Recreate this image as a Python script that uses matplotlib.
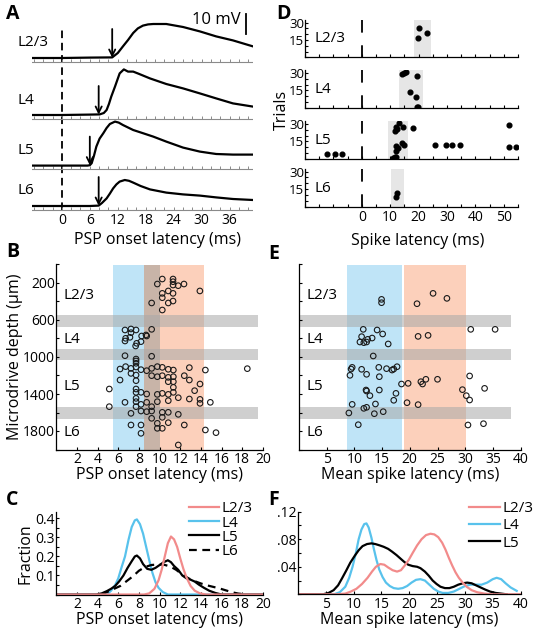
"""Multi-panel PSP / spike latency figure (panels A-F)."""

import matplotlib

matplotlib.use("Agg")
import matplotlib.pyplot as plt
import numpy as np
from matplotlib.ticker import MultipleLocator, FixedLocator, FuncFormatter

plt.rcParams["font.family"] = ["Open Sans", "DejaVu Sans"]
plt.rcParams["font.size"] = 10
plt.rcParams["axes.linewidth"] = 0.9

FIG_W_PX, FIG_H_PX = 534, 641
LABEL_SIZE = 11.5
TICK_SIZE = 10
LAYER_SIZE = 11

LAYERS = ["L2/3", "L4", "L5", "L6"]

# --- A: example PSP traces (ms, mV above baseline) ---
psp_onset_ms = [10.8, 7.9, 6.0, 7.9]
trace_l23_ms = [-6.4, 0, 6, 10.8, 12, 13.1, 14.2, 15.3, 16.3, 17.4, 18.5, 19.6, 22.4, 26, 29.6, 33.1, 36.7, 41]
trace_l23_mv = [0, 0, 0.2, 0.3, 2.5, 5.8, 9, 12.5, 14.8, 16.2, 16.8, 17, 17, 15.5, 13.3, 10.8, 8.8, 5.8]
trace_l4_ms = [-6.4, 0, 6, 8.1, 9.0, 9.6, 10.1, 10.6, 11.4, 12.4, 13.3, 14.2, 15.3, 16.5, 18.9, 22.4, 26, 29.6, 33.1, 36.7, 41]
trace_l4_mv = [0, 0, 0.2, 0.3, 1.0, 2.5, 5.5, 9.2, 14.2, 20.8, 22.8, 21.7, 21.7, 20.6, 18.3, 15.5, 13.3, 10.8, 8.3, 5.8, 4.2]
trace_l5_ms = [-6.4, 0, 5.5, 6.0, 6.4, 6.9, 7.4, 8.1, 8.9, 9.6, 10.3, 11.4, 12.2, 13.1, 15.3, 17.4, 19.6, 22.4, 26, 29.6, 33.1, 36.7, 41]
trace_l5_mv = [0, 0, 0, 0.2, 1.2, 5, 9.5, 13.5, 16.2, 18.8, 20.8, 22, 21.5, 20.3, 17.8, 16.2, 14.5, 12, 9, 7, 5.8, 5.5, 5.5]
trace_l6_ms = [-6.4, 0, 6, 7.9, 8.6, 9.6, 10.3, 11, 11.7, 12.4, 13.5, 14.4, 15.3, 16.9, 18.9, 22.4, 26, 29.6, 33.1, 36.7, 41]
trace_l6_mv = [0, 0, 0, 0.2, 1.5, 3.8, 6.2, 8.8, 10.8, 12.2, 13, 12.6, 11.7, 10, 8.3, 6.7, 5.8, 5.2, 4.3, 3.5, 3]

# --- D: spike rasters (ms, trial) ---
raster_band_ms = [(18.3, 24.3), (13.0, 21.5), (9.2, 16.2), (10.2, 14.8)]
spikes_l23_ms = [20.2, 19.8, 23.0]
spikes_l23_trial = [25.2, 17.0, 20.9]
spikes_l4_ms = [14.8, 15.7, 14.0, 19.3, 17.1, 19.0, 19.3, 19.8]
spikes_l4_trial = [29.8, 30.4, 29.0, 27.0, 13.6, 9.2, 1.4, 1.0]
spikes_l5_ms = [13.0, 12.2, 11.6, 12.4, 14.5, 18.1, 14.0, 14.8, 12.2, 12.8, 12.0, 11.6, 12.2, 11.0,
                -12.2, -9.5, -6.8, 25.8, 29.5, 31.9, 34.6, 51.9, 51.7, 54.2]
spikes_l5_trial = [30.5, 27.5, 24.0, 25.5, 27.0, 26.3, 13.3, 12.4, 11.0, 9.6, 6.6, 2.3, 1.7, 0.9,
                   4.6, 4.6, 4.6, 11.8, 11.8, 11.8, 11.8, 29.2, 10.7, 10.7]
spikes_l6_ms = [12.4, 12.0]
spikes_l6_trial = [11.9, 8.1]

# --- B: PSP onset latency vs depth ---
psp_latency_ms = [
    10.26, 11.3, 11.3, 11.3, 9.78, 11.8, 12.36, 10.84, 10.26, 11.3, 10.26, 13.9, 9.23, 10.84, 11.3, 10.26,
    6.65, 7.23, 7.72, 7.23, 6.71, 6.65, 7.13, 7.78, 7.68, 8.2, 8.26, 8.75, 8.68, 9.23, 6.65, 7.72, 9.23,
    7.72, 7.72,
    6.17, 6.71, 7.23, 7.72, 8.2, 8.75, 9.23, 9.78, 10.26, 10.84, 11.33, 12.88, 14.43, 18.49,
    7.23, 7.72, 9.23, 9.78, 10.26, 10.84, 11.33, 12.39, 12.88, 6.17, 7.72, 10.84, 11.33, 13.91,
    5.13, 7.72, 8.2, 8.75, 7.72, 9.78, 10.26, 10.84, 11.33, 11.33, 13.39,
    6.65, 7.72, 7.72, 8.75, 9.78, 10.84, 11.81, 12.88, 13.91, 13.91, 14.91, 5.13, 8.2,
    7.72, 9.23, 8.2, 8.75, 9.23, 7.23, 10.26, 10.84, 11.81,
    9.23, 10.26, 10.84, 12.39, 7.23, 8.2, 9.78, 9.78, 10.26, 14.43, 15.46, 8.2, 11.81,
]
psp_depth_um = [
    157, 157, 186, 222, 211, 229, 211, 286, 312, 312, 359, 286, 416, 416, 395, 492,
    708, 697, 708, 737, 798, 827, 787, 852, 881, 834, 773, 773, 762, 701, 986, 1022, 992,
    1043, 1068,
    1130, 1104, 1123, 1108, 1137, 1148, 1123, 1104, 1112, 1133, 1141, 1115, 1141, 1126,
    1177, 1195, 1202, 1213, 1202, 1220, 1213, 1202, 1249, 1249, 1256, 1267, 1267, 1292,
    1346, 1346, 1382, 1400, 1382, 1404, 1393, 1404, 1382, 1328, 1364,
    1490, 1447, 1483, 1490, 1483, 1472, 1440, 1454, 1458, 1501, 1490, 1537, 1512,
    1537, 1537, 1584, 1591, 1584, 1609, 1598, 1598, 1620,
    1663, 1652, 1710, 1735, 1735, 1735, 1717, 1771, 1771, 1789, 1818, 1825, 1951,
]

# --- E: mean spike latency vs depth ---
spike_latency_ms = [
    14.9, 14.9, 21.3, 24.2, 26.7,
    11.6, 14.1, 15.1, 11.3, 12.4, 13.2, 11.0, 11.7, 12.2, 16.1, 21.5, 23.3, 31.0, 35.4, 13.4,
    9.6, 9.4, 11.3, 12.2, 9.2, 14.4, 15.8, 16.8, 17.1, 17.7, 14.5, 18.5, 19.7, 22.0, 22.3, 22.9, 25.0,
    30.8, 29.5, 33.5, 12.1, 12.2, 12.8, 14.5, 17.5, 17.1, 30.2, 30.8, 9.6, 12.2, 11.7, 13.8, 19.5, 21.5,
    9.0, 13.6, 15.2, 10.7, 30.5, 33.3,
]
spike_depth_um = [
    377, 413, 424, 312, 366,
    701, 708, 751, 780, 809, 795, 838, 845, 838, 859, 777, 766, 701, 701, 989,
    1112, 1130, 1133, 1187, 1198, 1112, 1126, 1141, 1130, 1105, 1213, 1292, 1285, 1267, 1292, 1241, 1241,
    1205, 1353, 1339, 1357, 1368, 1418, 1357, 1393, 1468, 1418, 1465, 1512, 1544, 1555, 1508, 1494, 1515,
    1605, 1613, 1591, 1732, 1735, 1721,
]

# layer boundary bands (depth, um) and latency windows
boundary_bands_um = [(546, 672), (917, 1032), (1544, 1672)]
psp_window_ms = [(5.5, 10.0), (8.5, 14.3)]
spike_window_ms = [(8.7, 18.6), (18.9, 30.2)]
layer_label_depth_um = [330, 812, 1315, 1818]

# --- C: PSP onset latency distributions ---
c_l23_ms = [0, 8.5, 9.0, 9.5, 9.9, 10.2, 10.5, 10.8, 11.1, 11.4, 11.7, 12.0, 12.3, 12.6, 13.0, 13.4, 13.9, 14.5, 20]
c_l23_frac = [0, 0, 0.006, 0.03, 0.075, 0.13, 0.2, 0.27, 0.305, 0.29, 0.25, 0.19, 0.135, 0.09, 0.045, 0.02, 0.006, 0, 0]
c_l4_ms = [0, 4.9, 5.3, 5.7, 6.0, 6.3, 6.65, 7.0, 7.3, 7.6, 7.8, 8.1, 8.4, 8.7, 9.0, 9.3, 9.6, 9.9, 10.3, 10.8, 20]
c_l4_frac = [0, 0, 0.02, 0.05, 0.085, 0.14, 0.2, 0.29, 0.355, 0.39, 0.395, 0.37, 0.32, 0.25, 0.18, 0.115, 0.065, 0.035, 0.013, 0, 0]
c_l5_ms = [0, 3.9, 4.4, 4.9, 5.3, 5.7, 6.1, 6.5, 6.9, 7.3, 7.6, 7.8, 8.1, 8.4, 8.8, 9.2, 9.6, 10.0, 10.4, 10.8,
           11.1, 11.4, 11.8, 12.2, 12.6, 13.0, 13.4, 13.8, 14.3, 14.8, 15.4, 16.0, 20]
c_l5_frac = [0, 0, 0.006, 0.018, 0.03, 0.045, 0.07, 0.1, 0.14, 0.175, 0.2, 0.205, 0.19, 0.16, 0.135, 0.13, 0.14,
             0.155, 0.17, 0.18, 0.17, 0.15, 0.13, 0.1, 0.085, 0.078, 0.068, 0.052, 0.035, 0.02, 0.008, 0, 0]
c_l6_ms = [4.4, 5.0, 5.6, 6.2, 6.8, 7.4, 8.0, 8.6, 9.2, 9.8, 10.4, 11.0, 11.6, 12.2, 12.8, 13.4, 14.0,
           14.6, 15.2, 15.8, 16.4, 17.0, 17.6, 18.4]
c_l6_frac = [0, 0.015, 0.03, 0.045, 0.07, 0.095, 0.125, 0.145, 0.155, 0.158, 0.157, 0.148, 0.13, 0.105,
             0.085, 0.07, 0.058, 0.048, 0.04, 0.032, 0.022, 0.012, 0.005, 0]

# --- F: mean spike latency distributions ---
f_l23_ms = [0, 7.0, 8.5, 9.5, 10.5, 11.5, 12.5, 13.3, 14.0, 14.8, 15.5, 16.2, 17.0, 17.8, 18.5, 19.2, 19.9, 20.6,
            21.4, 22.2, 23.0, 23.8, 24.5, 25.2, 25.9, 26.5, 27.1, 27.7, 28.3, 28.9, 29.6, 30.3, 31.2, 32.2,
            33.5, 35.0, 40]
f_l23_frac = [0, 0, 0.001, 0.004, 0.008, 0.015, 0.024, 0.033, 0.04, 0.044, 0.043, 0.039, 0.035, 0.033, 0.035,
              0.042, 0.05, 0.06, 0.071, 0.08, 0.086, 0.088, 0.087, 0.083, 0.075, 0.065, 0.053, 0.042, 0.032,
              0.024, 0.017, 0.011, 0.006, 0.003, 0.001, 0, 0]
f_l4_ms = [0, 6.5, 7.5, 8.5, 9.2, 9.8, 10.4, 10.9, 11.4, 11.9, 12.3, 12.7, 13.2, 13.6, 14.1, 14.6, 15.2, 15.8,
           16.5, 17.2, 18.0, 18.8, 19.6, 20.4, 21.2, 22.0, 22.8, 23.6, 24.4, 25.2, 26.0, 27.0, 28.0, 29.0,
           30.0, 31.0, 32.0, 33.0, 34.0, 35.0, 35.7, 36.5, 37.3, 38.2, 39.3]
f_l4_frac = [0, 0, 0.003, 0.011, 0.024, 0.04, 0.06, 0.08, 0.094, 0.102, 0.103, 0.097, 0.082, 0.067, 0.05,
             0.036, 0.025, 0.017, 0.012, 0.009, 0.008, 0.009, 0.012, 0.017, 0.021, 0.022, 0.02, 0.014, 0.008,
             0.004, 0.002, 0.002, 0.004, 0.008, 0.012, 0.014, 0.014, 0.014, 0.017, 0.022, 0.024, 0.022, 0.016,
             0.01, 0.005]
f_l5_ms = [0, 4.5, 5.5, 6.4, 7.2, 7.9, 8.7, 9.4, 10.2, 10.9, 11.6, 12.4, 13.2, 13.9, 14.7, 15.4, 16.2, 16.9,
           17.7, 18.4, 19.1, 19.8, 20.6, 21.4, 22.0, 22.8, 23.5, 24.2, 24.9, 25.6, 26.4, 27.2, 28.0, 28.8,
           29.6, 30.4, 31.2, 32.0, 32.8, 33.6, 34.5, 35.5, 36.5, 37.5]
f_l5_frac = [0, 0, 0.002, 0.006, 0.013, 0.023, 0.035, 0.046, 0.056, 0.064, 0.07, 0.073, 0.074, 0.073, 0.071,
             0.069, 0.066, 0.062, 0.057, 0.052, 0.047, 0.043, 0.041, 0.04, 0.038, 0.033, 0.027, 0.02, 0.015,
             0.011, 0.009, 0.009, 0.011, 0.014, 0.016, 0.017, 0.016, 0.013, 0.01, 0.007, 0.004, 0.002, 0.001, 0]

PINK = "#f28b8b"
BLUE = "#58c2ec"
BAND_BLUE = "#bfe4f7"
BAND_ORANGE = "#fcd0bb"
BAND_MIX = "#c8b4a8"
BAND_GRAY = "#a8a8a8"


def px_axes(fig, left, top, right, bottom):
    """Add axes placed by pixel edges (origin top-left)."""
    return fig.add_axes((left / FIG_W_PX, 1 - bottom / FIG_H_PX,
                         (right - left) / FIG_W_PX, (bottom - top) / FIG_H_PX))


def fig_text(fig, x_px, y_px, text, **kwargs):
    return fig.text(x_px / FIG_W_PX, 1 - y_px / FIG_H_PX, text, **kwargs)


def style_axes(ax):
    for side in ("top", "right"):
        ax.spines[side].set_visible(False)
    ax.tick_params(which="both", direction="in", length=2.5, width=0.8, pad=2)
    ax.tick_params(which="minor", length=2)


def draw_traces(fig):
    ax = px_axes(fig, 32, 5, 253, 212)
    ax.set_xlim(-6.4, 41)
    ax.set_ylim(0, 103.5)
    ax.axis("off")
    offsets = [77, 48.5, 23.2, 3.0]
    traces = [(trace_l23_ms, trace_l23_mv), (trace_l4_ms, trace_l4_mv),
              (trace_l5_ms, trace_l5_mv), (trace_l6_ms, trace_l6_mv)]
    ax.vlines(0, 1, 92, colors="black", lw=1.3, linestyles=(0, (4.2, 2.6)))
    for (t, mv), off, onset, name in zip(traces, offsets, psp_onset_ms, LAYERS):
        base = off - 1.8
        ax.plot([-6.4, 41], [base, base], color="#8a8a8a", lw=0.8)
        ax.vlines(np.arange(-6, 41, 2), base, base + 1.4, colors="#8a8a8a", lw=0.7)
        ax.plot(t, np.asarray(mv) + off, color="black", lw=1.6, solid_capstyle="round")
        ax.annotate("", xy=(onset, off + 0.2), xytext=(onset, off + 14.5),
                    arrowprops=dict(arrowstyle="->", lw=1.3, color="black", mutation_scale=11,
                                    shrinkA=0, shrinkB=0))
        ax.text(-9.6, off + 7.5, name, fontsize=LAYER_SIZE, ha="left", va="center", clip_on=False)
    ax.plot([39.4, 39.4], [89, 99], color="black", lw=1.3)
    ax.text(38.3, 96, "10 mV", fontsize=12, ha="right", va="center")
    for tick in range(0, 37, 6):
        ax.text(tick, -0.4, str(tick), fontsize=TICK_SIZE, ha="center", va="top")
    fig_text(fig, (32 + 253) / 2 + 15, 240, "PSP onset latency (ms)",
             fontsize=LABEL_SIZE, ha="center", va="center")


def draw_rasters(fig):
    rows = [(20, 57.3), (70, 108.3), (121, 159.3), (169, 207)]
    spikes = [(spikes_l23_ms, spikes_l23_trial), (spikes_l4_ms, spikes_l4_trial),
              (spikes_l5_ms, spikes_l5_trial), (spikes_l6_ms, spikes_l6_trial)]
    for i, ((top, bottom), (t, trial), band, name) in enumerate(zip(rows, spikes, raster_band_ms, LAYERS)):
        ax = px_axes(fig, 305, top, 518, bottom)
        style_axes(ax)
        ax.set_xlim(-20, 55)
        ax.set_ylim(0, 32.2)
        ax.axvspan(band[0], band[1], color="#e6e6e6", lw=0)
        ax.plot([0, 0], [32.2, 0], color="black", lw=1.3, ls=(0, (7, 7)))
        ax.plot(t, trial, "o", color="black", ms=3.4, mec="black")
        ax.xaxis.set_major_locator(MultipleLocator(10))
        ax.xaxis.set_minor_locator(MultipleLocator(5))
        ax.yaxis.set_major_locator(FixedLocator([15, 30]))
        ax.yaxis.set_minor_locator(MultipleLocator(5))
        ax.tick_params(axis="y", labelsize=9.5, pad=0.5)
        if i < 3:
            ax.tick_params(axis="x", labelbottom=False)
        else:
            ax.set_xticks([0, 10, 20, 30, 40, 50])
            ax.tick_params(axis="x", labelsize=TICK_SIZE)
        ax.text(-16.5, 16, name, fontsize=LAYER_SIZE, ha="left", va="center")
    fig_text(fig, 282, 110, "Trials", fontsize=LABEL_SIZE, rotation=90, ha="center", va="center")
    fig_text(fig, 418, 241, "Spike latency (ms)", fontsize=LABEL_SIZE, ha="center", va="center")


def draw_depth_panel(ax, latency, depth, windows, band_right, xmax):
    style_axes(ax)
    ax.set_xlim(0, xmax)
    ax.set_ylim(2000, 0)
    (b0, b1), (o0, o1) = windows
    if o0 < b1:
        ax.axvspan(b0, o0, color=BAND_BLUE, lw=0)
        ax.axvspan(o0, b1, color=BAND_MIX, lw=0)
        ax.axvspan(b1, o1, color=BAND_ORANGE, lw=0)
    else:
        ax.axvspan(b0, b1, color=BAND_BLUE, lw=0)
        ax.axvspan(o0, o1, color=BAND_ORANGE, lw=0)
    for d0, d1 in boundary_bands_um:
        ax.fill_between([0, band_right], d0, d1, color=BAND_GRAY, alpha=0.55, lw=0)
    ax.scatter(latency, depth, s=16, facecolors="none", edgecolors="#1a1a1a", linewidths=0.8, zorder=3)
    ax.yaxis.set_minor_locator(MultipleLocator(200))


def draw_scatter_panels(fig):
    ax_b = px_axes(fig, 56.3, 264.5, 262.9, 449.5)
    draw_depth_panel(ax_b, psp_latency_ms, psp_depth_um, psp_window_ms, 19.5, 20)
    ax_b.set_xticks(np.arange(2, 21, 2))
    ax_b.set_yticks([200, 600, 1000, 1400, 1800])
    ax_b.tick_params(axis="both", labelsize=TICK_SIZE)
    ax_b.tick_params(axis="y", pad=1)
    ax_b.set_xlabel("PSP onset latency (ms)", fontsize=LABEL_SIZE, labelpad=0)
    ax_b.set_ylabel("Microdrive depth (\u00b5m)", fontsize=LABEL_SIZE, labelpad=0)
    for name, d in zip(LAYERS, layer_label_depth_um):
        ax_b.text(0.65, d, name, fontsize=LAYER_SIZE, ha="left", va="center")

    ax_e = px_axes(fig, 299, 264.5, 520.6, 449.5)
    draw_depth_panel(ax_e, spike_latency_ms, spike_depth_um, spike_window_ms, 38.3, 40)
    ax_e.set_xticks(np.arange(5, 41, 5))
    ax_e.yaxis.set_major_locator(MultipleLocator(200))
    ax_e.tick_params(axis="y", labelleft=False)
    ax_e.tick_params(axis="x", labelsize=TICK_SIZE)
    ax_e.set_xlabel("Mean spike latency (ms)", fontsize=LABEL_SIZE, labelpad=0)
    for name, d in zip(LAYERS, layer_label_depth_um):
        ax_e.text(1.4, d, name, fontsize=LAYER_SIZE, ha="left", va="center")


def draw_density_panels(fig):
    ax_c = px_axes(fig, 56.3, 512, 262.9, 594.5)
    style_axes(ax_c)
    ax_c.set_xlim(0, 20)
    ax_c.set_ylim(0, 0.434)
    ax_c.plot(c_l4_ms, c_l4_frac, color=BLUE, lw=1.6, label="L4")
    ax_c.plot(c_l5_ms, c_l5_frac, color="black", lw=1.6, label="L5")
    ax_c.plot(c_l6_ms, c_l6_frac, color="black", lw=1.6, ls=(0, (3.5, 2.5)), label="L6")
    ax_c.plot(c_l23_ms, c_l23_frac, color=PINK, lw=1.6, label="L2/3")
    ax_c.set_xticks(np.arange(2, 21, 2))
    ax_c.set_yticks([0.1, 0.2, 0.3, 0.4])
    ax_c.yaxis.set_minor_locator(MultipleLocator(0.05))
    ax_c.tick_params(axis="both", labelsize=TICK_SIZE)
    ax_c.tick_params(axis="y", pad=1)
    ax_c.set_xlabel("PSP onset latency (ms)", fontsize=LABEL_SIZE, labelpad=0)
    ax_c.set_ylabel("Fraction", fontsize=LABEL_SIZE, labelpad=1)
    handles, labels = ax_c.get_legend_handles_labels()
    order = [3, 0, 1, 2]
    ax_c.legend([handles[i] for i in order], [labels[i] for i in order], loc="upper left",
                bbox_to_anchor=(0.64, 1.13), frameon=False, fontsize=LAYER_SIZE, handlelength=2.0,
                handletextpad=0.15, labelspacing=-0.05, borderpad=0, borderaxespad=0)

    ax_f = px_axes(fig, 298, 511.7, 520.6, 594.3)
    style_axes(ax_f)
    ax_f.set_xlim(0, 40)
    ax_f.set_ylim(0, 0.12)
    ax_f.plot(f_l4_ms, f_l4_frac, color=BLUE, lw=1.6, label="L4")
    ax_f.plot(f_l5_ms, f_l5_frac, color="black", lw=1.6, label="L5")
    ax_f.plot(f_l23_ms, f_l23_frac, color=PINK, lw=1.6, label="L2/3")
    ax_f.set_xticks(np.arange(5, 41, 5))
    ax_f.set_yticks([0.04, 0.08, 0.12])
    ax_f.yaxis.set_minor_locator(MultipleLocator(0.02))
    ax_f.yaxis.set_major_formatter(FuncFormatter(lambda v, _: f"{v:.2f}".lstrip("0")))
    ax_f.tick_params(axis="both", labelsize=TICK_SIZE)
    ax_f.tick_params(axis="y", pad=1)
    ax_f.set_xlabel("Mean spike latency (ms)", fontsize=LABEL_SIZE, labelpad=0)
    handles, labels = ax_f.get_legend_handles_labels()
    order = [2, 0, 1]
    ax_f.legend([handles[i] for i in order], [labels[i] for i in order], loc="upper left",
                bbox_to_anchor=(0.77, 1.13), frameon=False, fontsize=LAYER_SIZE, handlelength=2.0,
                handletextpad=0.15, labelspacing=0.15, borderpad=0, borderaxespad=0)


def main() -> int:
    fig = plt.figure(figsize=(FIG_W_PX / 100, FIG_H_PX / 100), dpi=100)
    draw_traces(fig)
    draw_rasters(fig)
    draw_scatter_panels(fig)
    draw_density_panels(fig)
    letter = dict(fontsize=14, fontweight="bold", ha="left", va="center")
    fig_text(fig, 6, 14, "A", **letter)
    fig_text(fig, 276, 14, "D", **letter)
    fig_text(fig, 6, 252, "B", **letter)
    fig_text(fig, 268, 254, "E", **letter)
    fig_text(fig, 6, 500, "C", **letter)
    fig_text(fig, 268, 500, "F", **letter)
    fig.savefig("out.png", dpi=100)
    plt.close(fig)
    return 0


if __name__ == "__main__":
    raise SystemExit(main())
